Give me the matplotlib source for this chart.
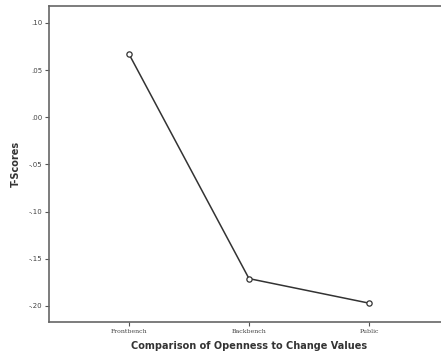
import matplotlib
matplotlib.use("Agg")
import matplotlib.pyplot as plt

categories = ["Frontbench", "Backbench", "Public"]
t_scores = [0.067, -0.171, -0.197]
y_ticks = [0.10, 0.05, 0.00, -0.05, -0.10, -0.15, -0.20]
y_tick_labels = [".10", ".05", ".00", "-.05", "-.10", "-.15", "-.20"]

fig = plt.figure(figsize=(4.41, 3.58), dpi=100)
ax = fig.add_axes([49/441, 1-322/358, 400/441, 316/358])

x = list(range(len(categories)))
ax.plot(x, t_scores, color="#333333", linewidth=1.1, marker="o", markersize=3.8,
        markerfacecolor="white", markeredgecolor="#333333", markeredgewidth=0.9)

ax.set_xlim(-0.667, 2.667)
ax.set_ylim(-0.217, 0.118)
ax.set_xticks(x)
ax.set_xticklabels(categories, family="DejaVu Serif", fontsize=4.5)
ax.set_yticks(y_ticks)
ax.set_yticklabels(y_tick_labels, fontsize=5)
ax.tick_params(axis="both", length=3, width=0.8, color="#555555", pad=2, labelcolor="#444444")

for s in ax.spines.values():
    s.set_color("#666666")
    s.set_linewidth(1.2)
ax.spines["right"].set_visible(False)

ax.set_xlabel("Comparison of Openness to Change Values", fontsize=7, fontweight="bold",
              color="#333333", labelpad=5)
ax.set_ylabel("T-Scores", fontsize=7, fontweight="bold", color="#333333", labelpad=5)

fig.savefig("out.png", dpi=100)
